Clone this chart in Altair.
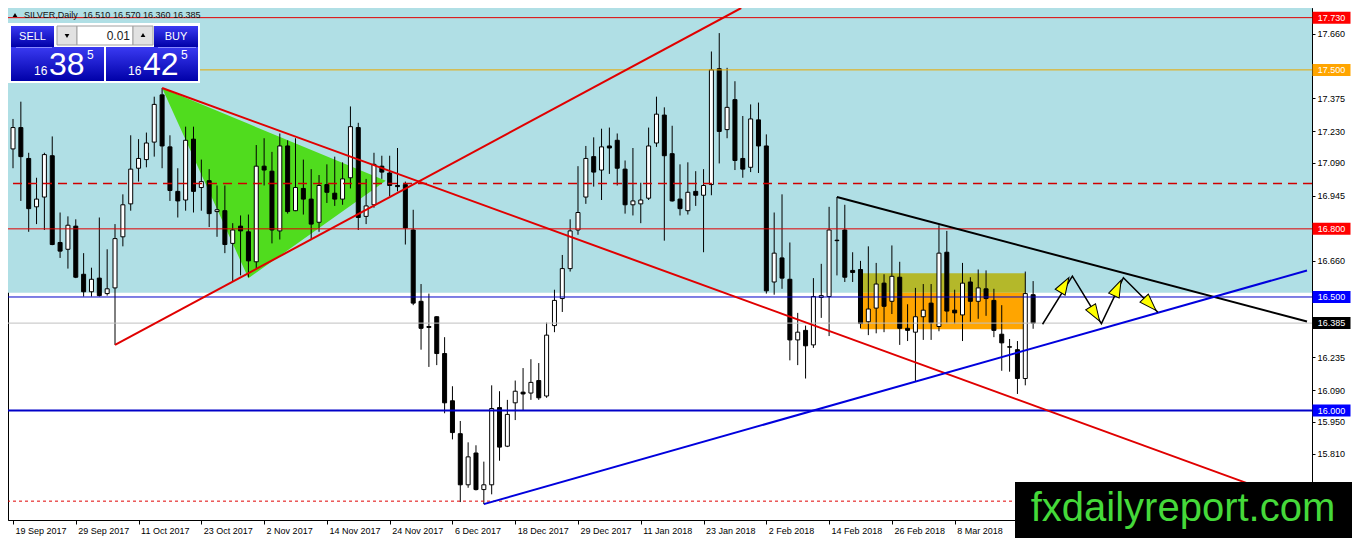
import altair as alt
import pandas as pd

# ---------------- candle data (bar 0 = 19 Sep 2017, daily) ----------------
opens = [17.152, 17.246, 17.110, 16.897, 16.940, 17.122, 16.740, 16.710, 16.812, 16.600,
         16.523, 16.583, 16.515, 16.540, 16.765, 16.910, 17.067, 17.105, 17.182, 17.390,
         17.161, 16.965, 16.927, 17.195, 16.982, 17.012, 16.876, 16.880, 16.736, 16.812,
         16.787, 16.655, 17.076, 17.054, 16.791, 17.165, 16.880, 16.978, 16.931, 16.829,
         16.995, 16.957, 16.931, 17.025, 17.246, 16.855, 16.906, 17.076, 17.046, 16.991,
         16.995, 16.795, 16.481, 16.370, 16.413, 16.251, 16.043, 15.898, 15.673, 15.813,
         15.652, 15.673, 16.013, 15.843, 16.034, 16.081, 16.077, 16.132, 16.064, 16.374,
         16.493, 16.625, 16.795, 16.940, 17.118, 17.059, 17.165, 17.190, 17.063, 16.906,
         16.910, 16.935, 17.178, 17.301, 17.131, 16.931, 16.880, 16.965, 16.948, 16.995,
         17.505, 17.237, 17.369, 17.110, 17.071, 17.280, 17.165, 16.566, 16.672, 16.578,
         16.311, 16.353, 16.289, 16.498, 16.502, 16.750, 16.795, 16.617, 16.621, 16.391,
         16.451, 16.561, 16.481, 16.587, 16.362, 16.345, 16.413, 16.473, 16.370, 16.697,
         16.442, 16.421, 16.566, 16.481, 16.536, 16.485, 16.336, 16.281, 16.268, 16.141,
         16.510]
highs = [17.284, 17.360, 17.135, 17.025, 17.135, 17.207, 16.872, 16.855, 16.842, 16.693,
         16.629, 16.850, 16.710, 16.821, 16.952, 17.212, 17.195, 17.224, 17.382, 17.420,
         17.212, 17.067, 17.250, 17.250, 17.105, 17.063, 16.991, 16.991, 16.825, 16.859,
         16.863, 17.169, 17.199, 17.139, 17.220, 17.190, 17.199, 17.105, 17.063, 17.037,
         17.084, 17.118, 17.093, 17.339, 17.267, 17.020, 17.135, 17.122, 17.122, 17.156,
         17.008, 16.884, 16.557, 16.515, 16.415, 16.323, 16.107, 15.954, 15.860, 15.847,
         15.775, 16.111, 16.085, 16.047, 16.132, 16.187, 16.226, 16.209, 16.387, 16.532,
         16.685, 16.842, 17.076, 17.165, 17.203, 17.241, 17.246, 17.220, 17.101, 17.156,
         17.003, 17.246, 17.382, 17.335, 17.254, 17.084, 17.093, 17.054, 17.063, 17.581,
         17.662, 17.509, 17.450, 17.297, 17.348, 17.356, 17.216, 16.872, 16.952, 16.740,
         16.430, 16.374, 16.583, 16.646, 16.897, 16.940, 16.906, 16.697, 16.659, 16.723,
         16.650, 16.600, 16.727, 16.655, 16.468, 16.540, 16.557, 16.557, 16.816, 16.791,
         16.532, 16.650, 16.587, 16.621, 16.617, 16.536, 16.464, 16.315, 16.306, 16.612,
         16.570]
lows = [17.067, 16.923, 16.787, 16.821, 16.795, 16.728, 16.672, 16.625, 16.583, 16.502,
        16.502, 16.502, 16.506, 16.289, 16.723, 16.880, 17.008, 17.071, 17.118, 17.067,
        16.923, 16.850, 16.880, 16.872, 16.880, 16.808, 16.765, 16.693, 16.570, 16.595,
        16.587, 16.625, 16.991, 16.736, 16.753, 16.867, 16.878, 16.863, 16.753, 16.787,
        16.914, 16.901, 16.906, 16.978, 16.795, 16.821, 16.893, 17.020, 16.944, 16.965,
        16.731, 16.464, 16.268, 16.192, 16.200, 15.988, 15.873, 15.597, 15.660, 15.648,
        15.588, 15.631, 15.779, 15.839, 15.958, 16.000, 16.047, 16.047, 16.056, 16.345,
        16.434, 16.612, 16.774, 16.910, 16.986, 16.927, 17.042, 16.991, 16.867, 16.859,
        16.825, 16.927, 17.161, 16.748, 16.920, 16.859, 16.863, 16.901, 16.697, 16.948,
        17.088, 17.199, 17.059, 17.025, 17.050, 17.046, 16.515, 16.510, 16.536, 16.221,
        16.200, 16.141, 16.276, 16.408, 16.328, 16.595, 16.566, 16.566, 16.362, 16.332,
        16.340, 16.345, 16.425, 16.289, 16.306, 16.128, 16.311, 16.311, 16.349, 16.387,
        16.383, 16.306, 16.391, 16.404, 16.417, 16.323, 16.175, 16.171, 16.073, 16.111,
        16.360]
closes = [17.246, 17.118, 16.889, 16.931, 17.127, 16.731, 16.702, 16.816, 16.587, 16.523,
          16.578, 16.506, 16.536, 16.757, 16.906, 17.063, 17.110, 17.178, 17.348, 17.165,
          16.969, 16.923, 17.190, 16.965, 17.008, 16.867, 16.884, 16.731, 16.795, 16.791,
          16.659, 17.076, 17.059, 16.795, 17.165, 16.876, 16.982, 16.931, 16.821, 16.991,
          16.961, 16.931, 17.020, 17.250, 16.850, 16.901, 17.084, 17.050, 16.991, 16.986,
          16.804, 16.473, 16.362, 16.366, 16.251, 16.034, 15.903, 15.673, 15.796, 15.652,
          15.673, 16.009, 15.839, 15.983, 16.085, 16.073, 16.124, 16.056, 16.332, 16.485,
          16.625, 16.791, 16.872, 17.110, 17.050, 17.161, 17.156, 17.067, 16.906, 16.923,
          16.927, 17.165, 17.305, 17.122, 16.923, 16.889, 16.961, 16.948, 16.991, 17.500,
          17.229, 17.335, 17.101, 17.063, 17.284, 17.165, 16.527, 16.693, 16.583, 16.311,
          16.345, 16.285, 16.502, 16.506, 16.795, 16.748, 16.587, 16.608, 16.383, 16.447,
          16.557, 16.459, 16.591, 16.362, 16.353, 16.413, 16.442, 16.387, 16.693, 16.438,
          16.430, 16.561, 16.481, 16.540, 16.493, 16.353, 16.298, 16.279, 16.141, 16.515,
          16.385]

date_ticks = [0, 8, 16, 24, 32, 40, 48, 56, 64, 72, 80, 88, 96, 104, 112, 120]
date_labels = ["19 Sep 2017", "29 Sep 2017", "11 Oct 2017", "23 Oct 2017", "2 Nov 2017",
               "14 Nov 2017", "24 Nov 2017", "6 Dec 2017", "18 Dec 2017", "29 Dec 2017",
               "11 Jan 2018", "23 Jan 2018", "2 Feb 2018", "14 Feb 2018", "26 Feb 2018",
               "8 Mar 2018"]
price_ticks = [17.660, 17.375, 17.230, 17.090, 16.945, 16.660,
               16.235, 16.090, 15.950, 15.810]

# horizontal levels
red_levels = [17.730, 16.800]
orange_levels = [17.500]
dashed_levels = [17.000]
blue_thin_levels = [16.500]
blue_thick_levels = [16.000]
bid_levels = [16.385]
dotted_levels = [15.601]

box_prices = [17.730, 17.500, 16.800, 16.500, 16.385, 16.000]
box_texts = ["17.730", "17.500", "16.800", "16.500", "16.385", "16.000"]
box_colors = ["#FF0000", "#FFA500", "#FF0000", "#0000FF", "#000000", "#0000FF"]

# zones
blue_zone_low = 16.519
range_bars = [108, 129]
olive_zone = [16.519, 16.604]
orange_zone = [16.358, 16.519]

# trend lines (bar index, price)
red_a_bars, red_a_prices = [13, 92.8], [16.289, 17.7725]
red_b_bars, red_b_prices = [19, 164.9], [17.420, 15.584]
black_bars, black_prices = [105, 164.9], [16.940, 16.392]
blue_bars, blue_prices = [60, 164.9], [15.588, 16.617]
tri_bars, tri_prices = [19, 30, 47.5], [17.420, 16.583, 17.012]

zig_bars = [131.2, 135.0, 138.7, 141.5, 145.9]
zig_prices = [16.380, 16.592, 16.383, 16.585, 16.433]
arrow_bars = [134.0, 137.9, 140.75, 144.9]
arrow_prices = [16.553, 16.425, 16.540, 16.468]
arrow_angles = [31, 148, 25, 136]

title_text = "SILVER,Daily\u00a0 16.510 16.570 16.360 16.385"

# ---------------- layout / style ----------------
W, H = 1304, 512
X_MAX = 164.9
Y_MIN, Y_MAX = 15.518, 17.7725
FONT = "Liberation Sans"

xs = alt.Scale(domain=[0, X_MAX], nice=False, zero=False)
ys = alt.Scale(domain=[Y_MIN, Y_MAX], nice=False, zero=False)
label_expr = "[" + ",".join("'%s'" % s for s in date_labels) + "][round(datum.value/8)]"
xaxis = alt.Axis(values=date_ticks, labelExpr=label_expr, labelAlign="left", labelBaseline="top",
                 labelPadding=2, labelOffset=2, tickSize=4, tickColor="black", domainColor="black",
                 labelFont=FONT, labelFontSize=9, labelColor="black", grid=False, title=None,
                 labelOverlap=False, labelFlush=False)
yaxis = alt.Axis(orient="right", values=price_ticks, format=".3f", tickSize=3, tickColor="black",
                 domainColor="black", labelFont=FONT, labelFontSize=9, labelColor="black",
                 labelPadding=2, grid=False, title=None, labelOverlap=False, labelFlush=False)


def X(f):
    return alt.X(f, type="quantitative", scale=xs, axis=xaxis)


def Y(f):
    return alt.Y(f, type="quantitative", scale=ys, axis=yaxis)


one = pd.DataFrame({"k": [0]})
layers = []

# background zones
layers.append(alt.Chart(pd.DataFrame({"lo": [blue_zone_low], "hi": [Y_MAX]})).mark_rect(color="#B0DFE5")
              .encode(x=alt.value(0), x2=alt.value(W), y=Y("hi"), y2="lo"))
layers.append(alt.Chart(pd.DataFrame({"b0": [range_bars[0]], "b1": [range_bars[1]],
                                      "lo": [olive_zone[0]], "hi": [olive_zone[1]]}))
              .mark_rect(color="#B4B82A").encode(x=X("b0"), x2="b1", y=Y("hi"), y2="lo"))
layers.append(alt.Chart(pd.DataFrame({"b0": [range_bars[0]], "b1": [range_bars[1]],
                                      "lo": [orange_zone[0]], "hi": [orange_zone[1]]}))
              .mark_rect(color="#FFA500").encode(x=X("b0"), x2="b1", y=Y("hi"), y2="lo"))

# green triangle (upper edge = straight line from first to last vertex)
t_up = [tri_prices[0],
        tri_prices[0] + (tri_prices[2] - tri_prices[0]) * (tri_bars[1] - tri_bars[0]) / (tri_bars[2] - tri_bars[0]),
        tri_prices[2]]
layers.append(alt.Chart(pd.DataFrame({"bar": tri_bars, "up": t_up, "lo": tri_prices}))
              .mark_area(color="#50DC1E", opacity=1).encode(x=X("bar"), y=Y("up"), y2="lo"))

# candles
cdf = pd.DataFrame({"bar": list(range(len(opens))), "open": opens, "high": highs,
                    "low": lows, "close": closes})
layers.append(alt.Chart(cdf).mark_rule(color="black", strokeWidth=1)
              .encode(x=X("bar"), y=Y("low"), y2="high"))
layers.append(alt.Chart(cdf).mark_bar(size=4, stroke="black", strokeWidth=1)
              .encode(x=X("bar"), y=Y("open"), y2="close",
                      fill=alt.condition("datum.close > datum.open", alt.value("white"), alt.value("black"))))


def hline(prices, color, width=1, dash=None):
    kw = dict(color=color, strokeWidth=width)
    if dash:
        kw["strokeDash"] = dash
    return alt.Chart(pd.DataFrame({"price": prices})).mark_rule(**kw).encode(y=Y("price"))


layers += [hline(bid_levels, "#C0C0C0"),
           hline(red_levels, "#E00000"),
           hline(orange_levels, "#E8A800"),
           hline(dashed_levels, "#D00000", 1.5, [9, 6]),
           hline(blue_thin_levels, "#0000C8"),
           hline(blue_thick_levels, "#0000C8", 2),
           hline(dotted_levels, "#E00000", 1, [3, 3])]


def tline(bars, prices, color, width=2):
    return (alt.Chart(pd.DataFrame({"bar": bars, "price": prices}))
            .mark_line(color=color, strokeWidth=width, clip=True)
            .encode(x=X("bar"), y=Y("price")))


layers += [tline(red_a_bars, red_a_prices, "#E00000"),
           tline(red_b_bars, red_b_prices, "#E00000"),
           tline(black_bars, black_prices, "black"),
           tline(blue_bars, blue_prices, "#0000DD"),
           tline(zig_bars, zig_prices, "black", 1.5)]

ARROW = "M0,-1L0.68,1L-0.68,1Z"
layers.append(alt.Chart(pd.DataFrame({"bar": arrow_bars, "price": arrow_prices, "angle": arrow_angles}))
              .mark_point(shape=ARROW, size=289, filled=True, fill="#FFFF00", stroke="black",
                          strokeWidth=1, opacity=1)
              .encode(x=X("bar"), y=Y("price"), angle=alt.Angle("angle:Q", scale=None)))

# price boxes on the right axis
bdf = pd.DataFrame({"price": box_prices, "label": box_texts, "bg": box_colors})
BOX = "M-1,-0.316L1,-0.316L1,0.316L-1,0.316Z"
layers.append(alt.Chart(bdf).mark_point(shape=BOX, size=1444, filled=True, opacity=1, strokeWidth=0)
              .encode(x=alt.value(W + 19.5), y=Y("price"), color=alt.Color("bg:N", scale=None)))
layers.append(alt.Chart(bdf).mark_text(color="white", font=FONT, fontSize=9, align="center",
                                       baseline="middle")
              .encode(x=alt.value(W + 19.5), y=Y("price"), text="label:N"))


def rect(x0, y0, x1, y1, fill, stroke=None):
    kw = dict(fill=fill)
    if stroke:
        kw.update(stroke=stroke, strokeWidth=1)
    return alt.Chart(one).mark_rect(**kw).encode(x=alt.value(x0), x2=alt.value(x1),
                                                 y=alt.value(y0), y2=alt.value(y1))


def text(x, y, s, size, color, font=FONT, align="left", baseline="alphabetic"):
    return alt.Chart(one).mark_text(fontSize=size, color=color, font=font, align=align,
                                    baseline=baseline).encode(x=alt.value(x), y=alt.value(y),
                                                              text=alt.value(s))


def tri(x, y, shape):
    return alt.Chart(one).mark_point(shape=shape, size=22, filled=True, color="black", opacity=1) \
        .encode(x=alt.value(x), y=alt.value(y))


# title
layers.append(tri(7, 7, "triangle-up"))
layers.append(text(16, 10, title_text, 9, "#101010"))

# trade panel
BLUE = {"gradient": "linear", "x1": 0, "y1": 0, "x2": 0, "y2": 1,
        "stops": [{"offset": 0, "color": "#3A3AF2"}, {"offset": 1, "color": "#0000A8"}]}
layers += [rect(0, 15, 192, 75, "white"),
           rect(3, 18, 46, 39, BLUE), rect(146, 18, 190, 39, BLUE),
           rect(3, 39, 96, 73, BLUE), rect(98, 39, 190, 73, BLUE),
           rect(49, 18, 69, 37, "#E2E2E2", "#A0A0A0"), rect(69, 18, 125, 37, "white", "#A0A0A0"),
           rect(125, 18, 145, 37, "#E2E2E2", "#A0A0A0"),
           rect(8, 39, 44, 40, "#8A8AFF"), rect(150, 39, 188, 40, "#8A8AFF"),
           tri(59, 28, "triangle-down"), tri(135, 27, "triangle-up"),
           text(24.5, 29, "SELL", 11, "white", FONT, "center", "middle"),
           text(168, 29, "BUY", 11, "white", FONT, "center", "middle"),
           text(122, 28, "0.01", 12, "#202020", FONT, "right", "middle"),
           text(26, 67, "16", 12, "white"), text(41, 67, "38", 32, "white"),
           text(79, 51, "5", 12, "white"),
           text(120, 67, "16", 12, "white"), text(135, 67, "42", 32, "white"),
           text(173, 51, "5", 12, "white")]

# watermark
layers.append(rect(1007, 474, W + 40, H + 18, "black"))
layers.append(text(1175, 513, "fxdailyreport.com", 40, "#45D93A", FONT, "center"))

chart = alt.layer(*layers).properties(
    width=W, height=H,
    autosize=alt.AutoSizeParams(type="none"),
    padding={"left": 0, "top": 0, "right": 40, "bottom": 18},
    background="white",
).configure_view(stroke="black", strokeWidth=1)

chart.save("out.html", embed_options={"renderer": "svg", "actions": False})
